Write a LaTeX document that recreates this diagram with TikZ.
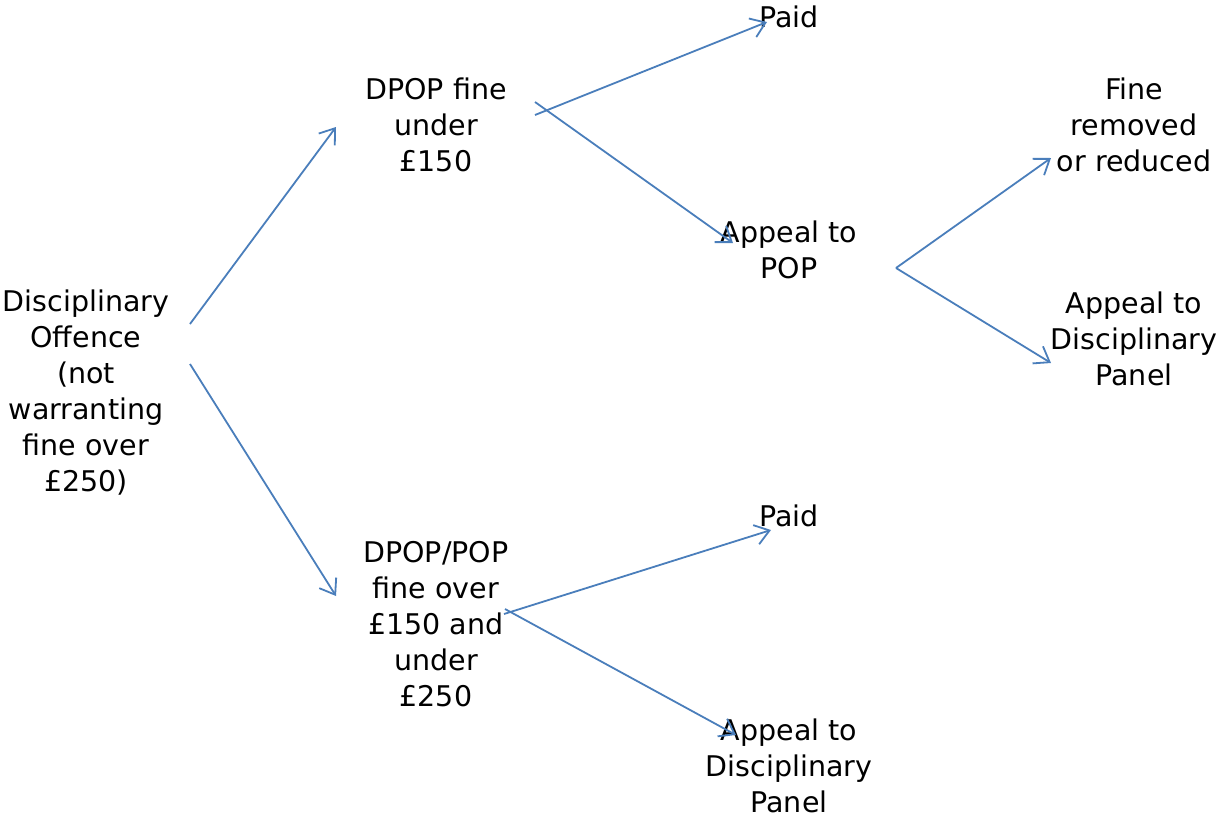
\documentclass[tikz,border=0pt]{standalone}
\usepackage{fontspec}
\setmainfont{DejaVu Sans}
\usetikzlibrary{arrows.meta}
\definecolor{linkblue}{RGB}{74,126,187}

\begin{document}
\begin{tikzpicture}[x=1pt,y=-1pt]

      \useasboundingbox (0,0) rectangle (1224,817);

      \begin{scope}[every node/.style={align=center,inner sep=0pt,
          font=\fontsize{28.5}{36}\selectfont}]
        \node (offence) at (86,393)   {Disciplinary\\Offence\\(not\\warranting\\fine over\\£250)};
        \node (under)   at (436,125)  {DPOP fine\\under\\£150};
        \node (over)    at (436,624)  {DPOP/POP\\fine over\\£150 and\\under\\£250};
        \node (paidA)   at (789,17)   {Paid};
        \node (pop)     at (789,250)  {Appeal to\\POP};
        \node (paidB)   at (789,516)  {Paid};
        \node (panelB)  at (789,766)  {Appeal to\\Disciplinary\\Panel};
        \node (removed) at (1134,125) {Fine\\removed\\or reduced};
        \node (panelA)  at (1134,339) {Appeal to\\Disciplinary\\Panel};
      \end{scope}

      % arrow ends
      \coordinate (o1) at (190,324);
      \coordinate (o2) at (190,364);
      \coordinate (u1) at (336,127);
      \coordinate (v1) at (336,596);
      \coordinate (u2) at (535,115);
      \coordinate (u3) at (535,102);
      \coordinate (a1) at (767,22);
      \coordinate (a2) at (733,243);
      \coordinate (p0) at (896,268);
      \coordinate (p1) at (1051,158);
      \coordinate (p2) at (1051,363);
      \coordinate (v2) at (504,614);
      \coordinate (v3) at (505,609);
      \coordinate (b1) at (771,530);
      \coordinate (b2) at (736,735);

      \begin{scope}[every edge/.style={draw=linkblue,line width=1.8pt,
          -{Straight Barb[length=14pt,width=20pt,line width=1.8pt]}}]
        \path (o1) edge (u1);
        \path (o2) edge (v1);
        \path (u2) edge (a1);
        \path (u3) edge (a2);
        \path (p0) edge (p1);
        \path (p0) edge (p2);
        \path (v2) edge (b1);
        \path (v3) edge (b2);
      \end{scope}

    \end{tikzpicture}
\end{document}
